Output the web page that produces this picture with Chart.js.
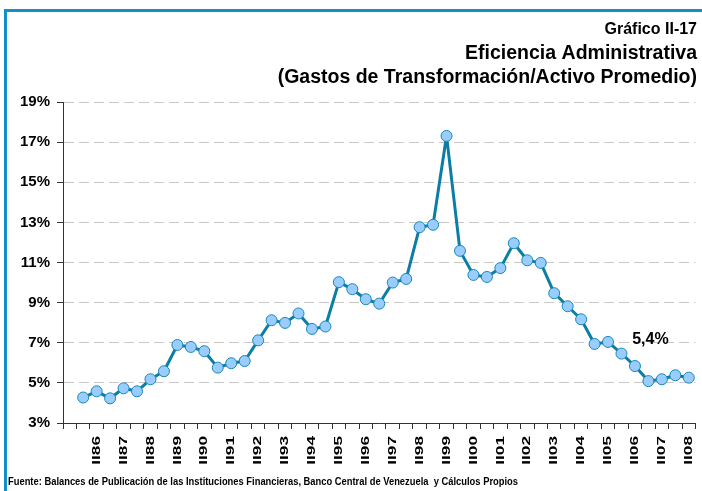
<!DOCTYPE html>
<html lang="es">
<head>
  <meta charset="UTF-8"/>
  <title>Eficiencia Administrativa</title>
  <script src="https://cdn.jsdelivr.net/npm/chart.js@4.4.1/dist/chart.umd.min.js"></script>
  <style>
    html, body { margin: 0; padding: 0; background: #fff; }
    #wrap { width: 702px; height: 491px; }
  </style>
</head>
<body>
  <div id="wrap"><canvas id="chart" width="702" height="491"></canvas></div>

  <script>
    // semestres: primera casilla vacía, luego I86, II86 ... I08, II08
    const semesters = [''];
    const years = ['86','87','88','89','90','91','92','93','94','95','96','97',
                   '98','99','00','01','02','03','04','05','06','07','08'];
    years.forEach(y => { semesters.push('I' + y); semesters.push('II' + y); });

    // gastos de transformación / activo promedio (%)
    const ratio = [null,
      4.27, 4.58, 4.23, 4.73, 4.58, 5.18, 5.58, 6.89, 6.79, 6.58,
      5.76, 5.98, 6.09, 7.12, 8.12, 7.99, 8.46, 7.69, 7.81, 10.02,
      9.67, 9.17, 8.95, 10.00, 10.18, 12.76, 12.88, 17.31, 11.58, 10.38,
      10.28, 10.72, 11.96, 11.11, 10.98, 9.47, 8.82, 8.17, 6.94, 7.04,
      6.46, 5.84, 5.09, 5.18, 5.38, 5.26];

    const yTicks = [3, 5, 7, 9, 11, 13, 15, 17, 19];

    const titleSmall = 'Gráfico II-17';
    const titleLines = ['Eficiencia Administrativa', '(Gastos de Transformación/Activo Promedio)'];
    const sourceNote = 'Fuente: Balances de Publicación de las Instituciones Financieras, Banco Central de Venezuela  y Cálculos Propios';
    const noteText = '5,4%';
    const noteIndex = 43;
    const noteValue = 7.15;

    const FONT = '"Liberation Sans", Arial, sans-serif';
    const BLUE = '#1390c8';

    const decor = {
      id: 'decor',
      beforeDraw(chart) {
        const ctx = chart.ctx;
        ctx.save();
        ctx.fillStyle = '#fff';
        ctx.fillRect(0, 0, chart.width, chart.height);
        ctx.fillStyle = BLUE;
        ctx.fillRect(4, 9, chart.width - 4, 3);
        ctx.fillRect(4, 9, 3, chart.height - 9);
        ctx.restore();
      },
      afterDraw(chart) {
        const ctx = chart.ctx;
        const xs = chart.scales.x, ys = chart.scales.y;
        ctx.save();
        ctx.fillStyle = '#000';
        ctx.textAlign = 'right';
        ctx.textBaseline = 'alphabetic';
        ctx.font = 'bold 16px ' + FONT;
        ctx.fillText(titleSmall, 697, 34);
        ctx.font = 'bold 19.5px ' + FONT;
        ctx.fillText(titleLines[0], 697, 59);
        ctx.fillText(titleLines[1], 697, 83);

        ctx.textAlign = 'left';
        ctx.font = 'bold 11px ' + FONT;
        ctx.fillText(sourceNote, 8, 485, 510);

        // etiquetas del eje x (solo segundo semestre), giradas
        ctx.font = 'bold 11.5px ' + FONT;
        semesters.forEach((lab, i) => {
          if (!lab.startsWith('II')) return;
          const x = xs.getPixelForValue(i);
          ctx.save();
          ctx.translate(x, xs.top + 13);
          ctx.rotate(-Math.PI / 2);
          ctx.scale(1.5, 1);
          ctx.textAlign = 'right';
          ctx.textBaseline = 'middle';
          ctx.fillText(lab, 0, 0);
          ctx.restore();
        });

        // anotación del último valor
        ctx.font = 'bold 16px ' + FONT;
        ctx.textAlign = 'center';
        ctx.textBaseline = 'middle';
        ctx.fillText(noteText, xs.getPixelForValue(noteIndex) + 2, ys.getPixelForValue(noteValue));
        ctx.restore();
      }
    };

    new Chart(document.getElementById('chart'), {
      type: 'line',
      data: {
        labels: semesters,
        datasets: [{
          data: ratio,
          borderColor: '#0b7ea6',
          borderWidth: 3,
          borderJoinStyle: 'round',
          backgroundColor: '#99ccff',
          pointBackgroundColor: '#99ccff',
          pointBorderColor: '#1a88b4',
          pointBorderWidth: 1,
          pointRadius: 5.5,
          tension: 0,
          spanGaps: false
        }]
      },
      options: {
        responsive: false,
        animation: false,
        layout: { padding: { top: 102, left: 0, right: 4, bottom: 0 } },
        plugins: { legend: { display: false }, tooltip: { enabled: false }, title: { display: false } },
        scales: {
          x: {
            type: 'category',
            offset: true,
            afterFit: s => { s.height = 68; },
            grid: { offset: true, drawOnChartArea: false, drawTicks: true, tickLength: 6, tickColor: '#333', color: '#333' },
            border: { color: '#333', width: 1 },
            ticks: { autoSkip: false, maxRotation: 0, callback: () => '' }
          },
          y: {
            min: 3,
            max: 19,
            afterFit: s => { s.width = 63; },
            afterBuildTicks: s => { s.ticks = yTicks.map(v => ({ value: v })); },
            grid: { color: '#c8c8c8', lineWidth: 1, tickLength: 6, tickColor: '#333', tickBorderDash: [] },
            border: { color: '#333', width: 1, dash: [10, 5] },
            ticks: {
              padding: 7,
              color: '#000',
              font: { family: FONT, size: 15, weight: 'bold' },
              callback: v => v + '%'
            }
          }
        }
      },
      plugins: [decor]
    });
  </script>
</body>
</html>
